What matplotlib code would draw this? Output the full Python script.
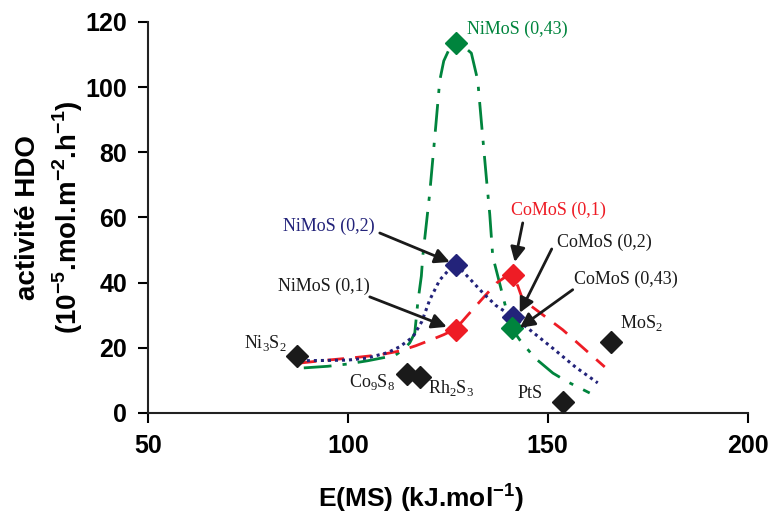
import matplotlib
matplotlib.use("Agg")
import matplotlib.pyplot as plt

plt.rcParams['font.family'] = ['Liberation Sans', 'DejaVu Sans']
plt.rcParams['mathtext.fontset'] = 'custom'
plt.rcParams['mathtext.rm'] = 'Liberation Serif'
plt.rcParams['mathtext.bf'] = 'Liberation Sans:bold'

# catalysts (x = E(MS) kJ/mol, y = HDO activity)
bulk_names = ['Ni$_\\mathrm{3}$S$_\\mathrm{2}$', 'Co$_\\mathrm{9}$S$_\\mathrm{8}$',
              'Rh$_\\mathrm{2}$S$_\\mathrm{3}$', 'PtS', 'MoS$_\\mathrm{2}$']
bulk_x = [87.25, 114.75, 118, 153.75, 165.75]
bulk_y = [17.5, 12, 11, 3.4, 21.8]

red_x = [127, 141.25]        # NiMoS (0,1), CoMoS (0,1)
red_y = [25.5, 42.4]
blue_x = [127, 141.25]       # NiMoS (0,2), CoMoS (0,2)
blue_y = [45.4, 29.5]
green_x = [127, 141]         # NiMoS (0,43), CoMoS (0,43)
green_y = [113.6, 26]

# trend curves
g_cx = [89, 95, 100, 105, 110, 112, 114, 115.5, 116.75, 117.5, 118.4, 118.75, 120.5, 122, 123,
        124, 125.5, 127, 128.5, 130.9, 132.5, 133.5, 134.7, 135.5, 136.25, 137.3, 138.4, 140,
        141, 143, 146.75, 151.3, 155, 160.5]
g_cy = [13.8, 14.3, 15, 16, 17.2, 17.8, 19.5, 21.5, 24.5, 33.8, 42, 48, 67.5, 88, 102,
        108, 112, 113.6, 113, 110.4, 102, 88, 71.5, 61, 48, 43, 37.7, 30,
        26, 22.4, 16.9, 12.2, 9.5, 6.1]
b_cx = [88, 95, 100, 104.7, 110, 113, 116.3, 118.5, 120.5, 123, 125, 127, 128.4, 131, 133.8,
        137, 141.25, 145, 151.3, 157, 162.5]
b_cy = [16, 16.1, 16.2, 16.8, 18.5, 20.3, 23.3, 28, 34.7, 40.8, 43.5, 45.4, 43.9, 40.5, 36.8,
        33, 29.5, 26, 19.8, 14, 9.2]
r_cx = [88, 95, 102, 108, 113, 117, 121, 124, 127, 130, 134, 137.25, 139.5, 141.25, 142.5,
        143.75, 148, 153.75, 159, 164.25]
r_cy = [15.3, 16.2, 17, 17.8, 19, 20.6, 22.5, 24, 25.8, 30, 35.5, 39.9, 41.8, 42, 39,
        34.7, 30.8, 25.5, 19.8, 14.1]

c_green = '#00843d'
c_red = '#ee1c25'
c_blue = '#23237a'
c_black = '#1a1a1a'

fig = plt.figure(figsize=(7.7, 5.2), dpi=100)
ax = fig.add_axes([0.192, 0.206, 0.779, 0.752])

ax.plot(g_cx, g_cy, color=c_green, lw=2, dashes=(10, 4, 1.5, 4))
ax.plot(r_cx, r_cy, color=c_red, lw=2, dashes=(6, 4))
ax.plot(b_cx, b_cy, color=c_blue, lw=2.2, linestyle=(0, (1, 1.3)))

ms = 11
ax.plot(bulk_x, bulk_y, 'D', color=c_black, ms=ms, zorder=5)
ax.plot(red_x, red_y, 'D', color=c_red, ms=ms, zorder=5)
ax.plot(blue_x, blue_y, 'D', color=c_blue, ms=ms, zorder=5)
ax.plot(green_x, green_y, 'D', color=c_green, ms=ms, zorder=5)

tfont = dict(family='Liberation Serif', fontsize=13, va='center')

# bulk sulfide labels
bulk_lab = [(84.75, 21.5, 'right'), (111.75, 9.5, 'right'), (120, 7.7, 'left'),
            (148.75, 6.1, 'right'), (168, 27.6, 'left')]
for name, (tx, ty, ha) in zip(bulk_names, bulk_lab):
    ax.text(tx, ty, name, ha=ha, color=c_black, **tfont)

ax.text(129.75, 117.6, 'NiMoS (0,43)', ha='left', color=c_green, **tfont)
ax.text(106.75, 57.1, 'NiMoS (0,2)', ha='right', color=c_blue, **tfont)
ax.text(105.5, 38.7, 'NiMoS (0,1)', ha='right', color=c_black, **tfont)
ax.text(152.75, 62, 'CoMoS (0,1)', ha='center', color=c_red, **tfont)
ax.text(152.25, 52.2, 'CoMoS (0,2)', ha='left', color=c_black, **tfont)
ax.text(156.5, 41.1, 'CoMoS (0,43)', ha='left', color=c_black, **tfont)

arrow = dict(arrowstyle='-|>', color=c_black, lw=2, mutation_scale=22, shrinkA=0, shrinkB=0)
arrows = [((108, 55.2), (125.5, 46.3)),
          ((105.5, 35.6), (124.75, 26.4)),
          ((143.75, 58.3), (141.75, 46.3)),
          ((151, 50.3), (143, 30.7)),
          ((156.25, 37.8), (143, 26.1))]
for tail, head in arrows:
    ax.annotate('', xy=head, xytext=tail, arrowprops=arrow, zorder=6)

ax.set_xlim(50, 200)
ax.set_ylim(0, 120)
ax.set_xticks([50, 100, 150, 200])
ax.set_yticks(range(0, 121, 20))
for s in ['top', 'right']:
    ax.spines[s].set_visible(False)
for s in ['left', 'bottom']:
    ax.spines[s].set_linewidth(1.5)
    ax.spines[s].set_color('#222222')
ax.tick_params(direction='out', length=7, width=1.5, labelsize=18, pad=8)
for lab in ax.get_xticklabels() + ax.get_yticklabels():
    lab.set_fontweight('bold')

ax.set_xlabel('E(MS) (kJ.mol$^{\\mathbf{-1}}$)', fontsize=19, fontweight='bold')
ax.xaxis.set_label_coords(0.455, -0.175)
ax.set_ylabel('activité HDO\n(10$^{\\mathbf{-5}}$.mol.m$^{\\mathbf{-2}}$.h$^{\\mathbf{-1}}$)',
              fontsize=20, fontweight='bold', linespacing=1.35)
ax.yaxis.set_label_coords(-0.105, 0.5)

plt.savefig('out.png', dpi=100)
